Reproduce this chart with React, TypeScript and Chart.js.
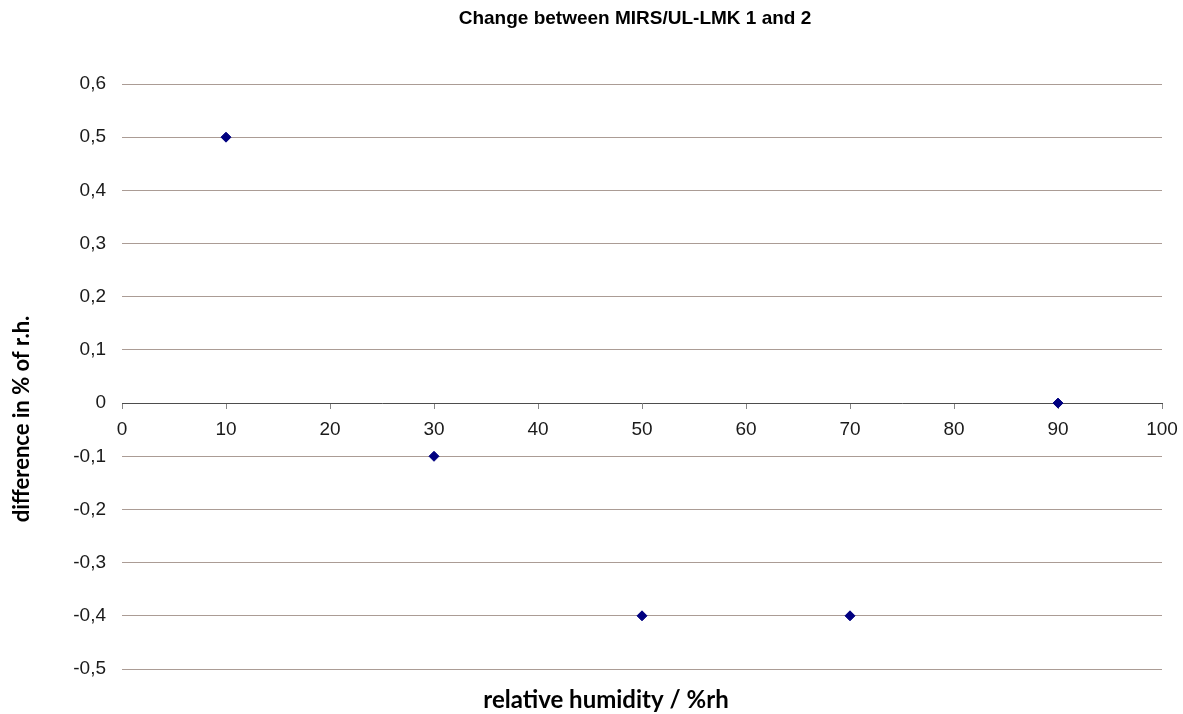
import React, { useEffect, useRef } from "react";
import { Chart, registerables } from "chart.js";

Chart.register(...registerables);

const chartTitle = "Change between MIRS/UL-LMK 1 and 2";
const xAxisTitle = "relative humidity / %rh";
const yAxisTitle = "difference in % of r.h.";
const humidity = [10, 30, 50, 70, 90];
const difference = [0.5, -0.1, -0.4, -0.4, 0];
const xRange = [0, 100];
const yRange = [-0.5, 0.6];

const titlesPlugin = {
  id: "titles",
  afterDraw(chart: any) {
    const ctx = chart.ctx;
    ctx.save();
    ctx.fillStyle = "#000000";
    ctx.textAlign = "center";
    ctx.textBaseline = "middle";
    ctx.font = "bold 19px 'Liberation Sans', Arial, sans-serif";
    ctx.fillText(chartTitle, 635, 19);
    ctx.font = "bold 24px Lato, 'Open Sans', sans-serif";
    ctx.fillText(xAxisTitle, 606, 700);
    ctx.font = "bold 22px Lato, 'Open Sans', sans-serif";
    ctx.translate(22, 419);
    ctx.rotate(-Math.PI / 2);
    ctx.fillText(yAxisTitle, 0, 0);
    ctx.restore();
  },
};

export default function App() {
  const ref = useRef<HTMLCanvasElement | null>(null);
  useEffect(() => {
    const canvas = ref.current;
    if (!canvas) return;
    const chart = new Chart(canvas, {
      type: "scatter",
      data: {
        datasets: [
          {
            label: "difference",
            data: humidity.map((x, i) => ({ x, y: difference[i] })),
            backgroundColor: "#000080",
            borderColor: "#000080",
            pointStyle: "rectRot",
            pointRadius: 5,
            pointHoverRadius: 5,
            showLine: false,
          },
        ],
      },
      options: {
        responsive: false,
        animation: false,
        layout: { padding: { left: 0, right: 21, top: 84, bottom: 45 } },
        plugins: {
          legend: { display: false },
          tooltip: { enabled: false },
          title: { display: false },
        },
        scales: {
          x: {
            type: "linear",
            position: { y: 0 } as any,
            min: xRange[0],
            max: xRange[1],
            afterFit: (scale: any) => {
              scale.paddingLeft = 0;
              scale.paddingRight = 0;
            },
            ticks: {
              stepSize: 10,
              color: "#1a1a1a",
              font: { family: "'Liberation Sans', Arial, sans-serif", size: 19 },
              padding: 10,
              maxRotation: 0,
            },
            grid: {
              drawOnChartArea: false,
              drawTicks: true,
              tickLength: 5,
              color: "#868686",
            },
            border: { display: true, color: "#4d4d4d", width: 1 },
          },
          y: {
            type: "linear",
            min: yRange[0],
            max: yRange[1],
            afterFit: (scale: any) => {
              scale.width = 122;
            },
            ticks: {
              stepSize: 0.1,
              color: "#1a1a1a",
              font: { family: "'Liberation Sans', Arial, sans-serif", size: 19 },
              padding: 16,
              callback: (v: any) => {
                const n = Math.round(Number(v) * 10) / 10;
                if (n === 0) return "0";
                return n.toFixed(1).replace(".", ",");
              },
            },
            grid: {
              drawTicks: false,
              color: (c: any) =>
                c.tick && Math.abs(c.tick.value) < 1e-9 ? "rgba(0,0,0,0)" : "#ab9c95",
            },
            border: { display: false },
          },
        },
      },
      plugins: [titlesPlugin],
    });
    return () => chart.destroy();
  }, []);
  return (
    <div style={{ position: "fixed", left: 0, top: 0, width: 1183, height: 714, background: "#ffffff" }}>
      <canvas ref={ref} width={1183} height={714} style={{ display: "block" }} />
    </div>
  );
}
